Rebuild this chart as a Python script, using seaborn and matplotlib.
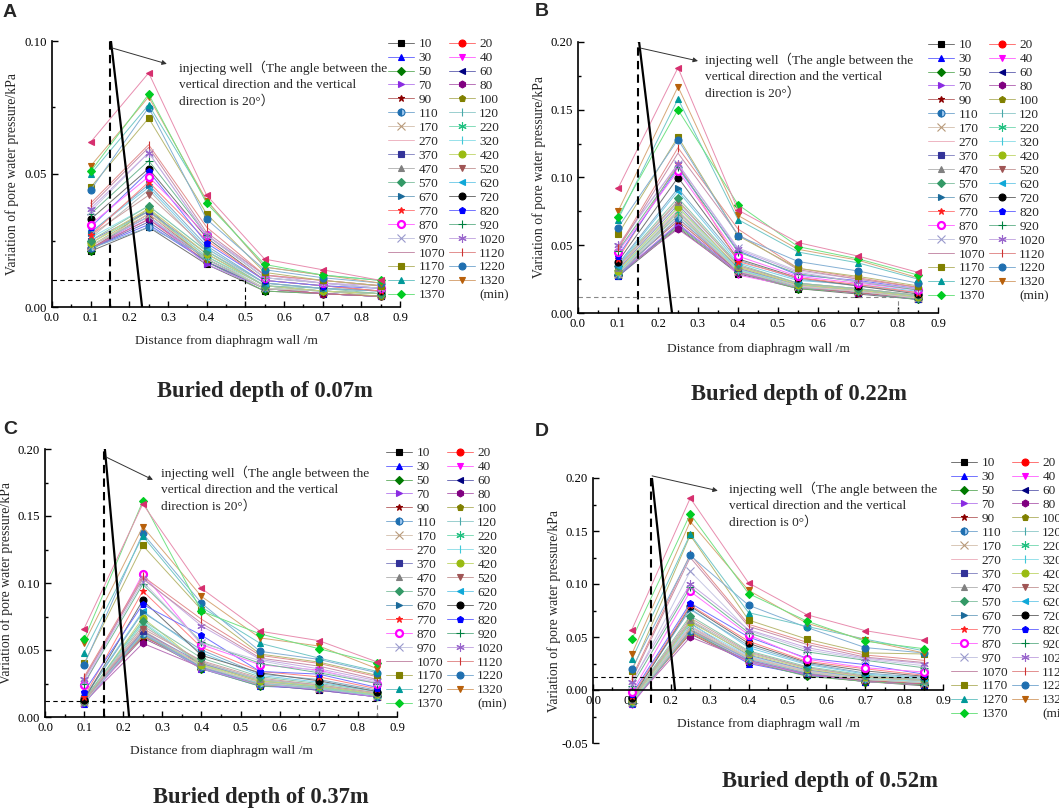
import matplotlib
matplotlib.use("Agg")
import matplotlib.pyplot as plt
import seaborn as sns
from matplotlib.lines import Line2D
from matplotlib.ticker import MultipleLocator
from matplotlib.colors import to_rgb

# distance of each monitoring point from the diaphragm wall (m)
distance = [0.1, 0.25, 0.4, 0.55, 0.7, 0.85]

# injection time of each curve (min); the last curve is not listed in the legend
times = [10, 20, 30, 40, 50, 60, 70, 80, 90, 100, 110, 120, 170, 220, 270, 320,
         370, 420, 470, 520, 570, 620, 670, 720, 770, 820, 870, 920, 970, 1020,
         1070, 1120, 1170, 1220, 1270, 1320, 1370, 1420]

# buried depth 0.07 m
values_a = [
    [0.021, 0.030, 0.016, 0.006, 0.005, 0.004],
    [0.022, 0.033, 0.017, 0.007, 0.005, 0.004],
    [0.022, 0.031, 0.017, 0.007, 0.005, 0.004],
    [0.023, 0.034, 0.018, 0.007, 0.005, 0.004],
    [0.021, 0.037, 0.017, 0.006, 0.005, 0.004],
    [0.022, 0.032, 0.017, 0.007, 0.005, 0.004],
    [0.022, 0.034, 0.016, 0.007, 0.005, 0.004],
    [0.022, 0.033, 0.018, 0.007, 0.005, 0.004],
    [0.022, 0.035, 0.018, 0.007, 0.005, 0.004],
    [0.023, 0.036, 0.018, 0.007, 0.006, 0.004],
    [0.022, 0.030, 0.019, 0.007, 0.006, 0.005],
    [0.023, 0.034, 0.018, 0.007, 0.006, 0.005],
    [0.023, 0.035, 0.019, 0.007, 0.006, 0.005],
    [0.024, 0.036, 0.019, 0.008, 0.006, 0.005],
    [0.024, 0.037, 0.020, 0.008, 0.006, 0.005],
    [0.026, 0.038, 0.021, 0.008, 0.006, 0.005],
    [0.025, 0.036, 0.020, 0.008, 0.006, 0.005],
    [0.024, 0.037, 0.020, 0.008, 0.006, 0.005],
    [0.026, 0.044, 0.021, 0.009, 0.007, 0.006],
    [0.027, 0.042, 0.022, 0.009, 0.007, 0.006],
    [0.025, 0.038, 0.021, 0.008, 0.007, 0.005],
    [0.028, 0.045, 0.022, 0.009, 0.007, 0.006],
    [0.028, 0.046, 0.023, 0.009, 0.007, 0.006],
    [0.033, 0.052, 0.026, 0.010, 0.008, 0.006],
    [0.027, 0.047, 0.025, 0.010, 0.008, 0.006],
    [0.030, 0.051, 0.024, 0.010, 0.008, 0.007],
    [0.031, 0.049, 0.027, 0.011, 0.009, 0.007],
    [0.035, 0.055, 0.027, 0.011, 0.009, 0.007],
    [0.036, 0.058, 0.027, 0.011, 0.009, 0.007],
    [0.037, 0.058, 0.027, 0.012, 0.009, 0.008],
    [0.038, 0.060, 0.028, 0.012, 0.010, 0.008],
    [0.039, 0.061, 0.030, 0.012, 0.010, 0.008],
    [0.045, 0.071, 0.035, 0.013, 0.010, 0.008],
    [0.044, 0.075, 0.033, 0.014, 0.011, 0.009],
    [0.050, 0.076, 0.040, 0.015, 0.012, 0.010],
    [0.053, 0.079, 0.040, 0.015, 0.012, 0.009],
    [0.051, 0.080, 0.039, 0.016, 0.012, 0.010],
    [0.062, 0.088, 0.042, 0.018, 0.014, 0.010],
]

# buried depth 0.22 m
values_b = [
    [0.027, 0.063, 0.029, 0.018, 0.014, 0.010],
    [0.028, 0.070, 0.031, 0.019, 0.015, 0.011],
    [0.027, 0.066, 0.030, 0.019, 0.015, 0.010],
    [0.029, 0.075, 0.028, 0.019, 0.015, 0.011],
    [0.028, 0.064, 0.030, 0.018, 0.015, 0.010],
    [0.028, 0.065, 0.031, 0.019, 0.015, 0.011],
    [0.028, 0.066, 0.030, 0.019, 0.015, 0.011],
    [0.029, 0.062, 0.030, 0.019, 0.015, 0.011],
    [0.030, 0.068, 0.031, 0.019, 0.015, 0.011],
    [0.032, 0.072, 0.034, 0.021, 0.017, 0.012],
    [0.028, 0.070, 0.032, 0.020, 0.016, 0.011],
    [0.029, 0.072, 0.031, 0.019, 0.016, 0.011],
    [0.029, 0.074, 0.031, 0.020, 0.016, 0.011],
    [0.030, 0.075, 0.032, 0.020, 0.016, 0.012],
    [0.031, 0.076, 0.033, 0.020, 0.016, 0.012],
    [0.030, 0.078, 0.032, 0.021, 0.017, 0.012],
    [0.032, 0.080, 0.033, 0.021, 0.017, 0.012],
    [0.031, 0.078, 0.034, 0.021, 0.017, 0.012],
    [0.033, 0.082, 0.035, 0.022, 0.018, 0.013],
    [0.034, 0.083, 0.035, 0.022, 0.018, 0.013],
    [0.035, 0.085, 0.036, 0.022, 0.018, 0.013],
    [0.035, 0.090, 0.037, 0.024, 0.021, 0.016],
    [0.036, 0.092, 0.039, 0.025, 0.020, 0.015],
    [0.038, 0.100, 0.040, 0.026, 0.020, 0.014],
    [0.040, 0.110, 0.038, 0.026, 0.021, 0.015],
    [0.042, 0.107, 0.046, 0.028, 0.024, 0.018],
    [0.045, 0.105, 0.042, 0.027, 0.022, 0.017],
    [0.046, 0.108, 0.045, 0.029, 0.023, 0.017],
    [0.049, 0.110, 0.048, 0.031, 0.025, 0.019],
    [0.050, 0.110, 0.047, 0.030, 0.023, 0.018],
    [0.047, 0.118, 0.058, 0.032, 0.025, 0.019],
    [0.048, 0.122, 0.062, 0.033, 0.026, 0.019],
    [0.058, 0.130, 0.057, 0.033, 0.027, 0.020],
    [0.063, 0.128, 0.057, 0.038, 0.031, 0.022],
    [0.069, 0.158, 0.069, 0.045, 0.037, 0.025],
    [0.075, 0.167, 0.072, 0.047, 0.039, 0.026],
    [0.071, 0.150, 0.080, 0.049, 0.040, 0.028],
    [0.092, 0.181, 0.076, 0.052, 0.042, 0.030],
]

# buried depth 0.37 m
values_c = [
    [0.012, 0.059, 0.038, 0.024, 0.020, 0.015],
    [0.014, 0.064, 0.038, 0.025, 0.021, 0.016],
    [0.010, 0.062, 0.036, 0.023, 0.021, 0.015],
    [0.011, 0.060, 0.037, 0.025, 0.020, 0.015],
    [0.012, 0.061, 0.036, 0.023, 0.022, 0.016],
    [0.011, 0.063, 0.037, 0.024, 0.020, 0.015],
    [0.010, 0.062, 0.036, 0.024, 0.021, 0.015],
    [0.011, 0.055, 0.037, 0.025, 0.021, 0.016],
    [0.013, 0.060, 0.040, 0.026, 0.022, 0.016],
    [0.012, 0.061, 0.039, 0.024, 0.023, 0.017],
    [0.011, 0.062, 0.037, 0.025, 0.022, 0.016],
    [0.011, 0.063, 0.038, 0.025, 0.021, 0.016],
    [0.011, 0.065, 0.038, 0.026, 0.022, 0.016],
    [0.012, 0.070, 0.039, 0.027, 0.022, 0.016],
    [0.013, 0.068, 0.041, 0.028, 0.023, 0.017],
    [0.013, 0.071, 0.040, 0.028, 0.023, 0.017],
    [0.012, 0.064, 0.040, 0.027, 0.023, 0.017],
    [0.012, 0.074, 0.039, 0.027, 0.023, 0.017],
    [0.012, 0.068, 0.041, 0.028, 0.024, 0.018],
    [0.012, 0.066, 0.042, 0.029, 0.024, 0.018],
    [0.013, 0.072, 0.044, 0.030, 0.025, 0.019],
    [0.015, 0.079, 0.048, 0.031, 0.026, 0.019],
    [0.014, 0.078, 0.050, 0.032, 0.028, 0.020],
    [0.013, 0.087, 0.046, 0.033, 0.027, 0.019],
    [0.015, 0.094, 0.052, 0.034, 0.030, 0.021],
    [0.019, 0.084, 0.061, 0.034, 0.032, 0.022],
    [0.024, 0.107, 0.054, 0.039, 0.035, 0.025],
    [0.025, 0.099, 0.056, 0.040, 0.033, 0.025],
    [0.027, 0.101, 0.055, 0.042, 0.034, 0.026],
    [0.028, 0.104, 0.068, 0.043, 0.036, 0.027],
    [0.029, 0.103, 0.070, 0.044, 0.038, 0.028],
    [0.030, 0.105, 0.073, 0.046, 0.040, 0.030],
    [0.040, 0.128, 0.080, 0.047, 0.041, 0.031],
    [0.039, 0.137, 0.085, 0.049, 0.043, 0.033],
    [0.048, 0.135, 0.082, 0.055, 0.044, 0.034],
    [0.055, 0.142, 0.090, 0.059, 0.053, 0.036],
    [0.058, 0.161, 0.079, 0.062, 0.051, 0.040],
    [0.066, 0.159, 0.096, 0.064, 0.057, 0.041],
]

# buried depth 0.52 m
values_d = [
    [-0.010, 0.053, 0.026, 0.014, 0.008, 0.004],
    [-0.012, 0.054, 0.026, 0.014, 0.008, 0.005],
    [-0.013, 0.056, 0.025, 0.014, 0.008, 0.005],
    [-0.014, 0.058, 0.026, 0.015, 0.008, 0.005],
    [-0.012, 0.055, 0.027, 0.013, 0.008, 0.005],
    [-0.012, 0.063, 0.028, 0.015, 0.009, 0.006],
    [-0.013, 0.060, 0.027, 0.015, 0.009, 0.006],
    [-0.012, 0.050, 0.028, 0.015, 0.009, 0.006],
    [-0.012, 0.057, 0.030, 0.016, 0.009, 0.006],
    [-0.011, 0.055, 0.031, 0.017, 0.010, 0.007],
    [-0.012, 0.056, 0.029, 0.016, 0.010, 0.007],
    [-0.011, 0.058, 0.030, 0.017, 0.010, 0.007],
    [-0.011, 0.058, 0.030, 0.017, 0.010, 0.007],
    [-0.011, 0.060, 0.031, 0.018, 0.011, 0.008],
    [-0.010, 0.060, 0.031, 0.018, 0.011, 0.008],
    [-0.010, 0.062, 0.032, 0.019, 0.011, 0.008],
    [-0.010, 0.065, 0.033, 0.019, 0.012, 0.009],
    [-0.010, 0.064, 0.034, 0.020, 0.012, 0.009],
    [-0.009, 0.066, 0.035, 0.021, 0.013, 0.009],
    [-0.009, 0.068, 0.036, 0.021, 0.013, 0.010],
    [-0.008, 0.070, 0.037, 0.022, 0.014, 0.010],
    [-0.007, 0.077, 0.040, 0.024, 0.015, 0.011],
    [-0.006, 0.076, 0.042, 0.025, 0.016, 0.012],
    [-0.008, 0.079, 0.044, 0.026, 0.018, 0.013],
    [-0.006, 0.080, 0.046, 0.027, 0.020, 0.014],
    [-0.004, 0.082, 0.050, 0.030, 0.024, 0.015],
    [-0.002, 0.093, 0.052, 0.029, 0.021, 0.017],
    [0.004, 0.097, 0.054, 0.036, 0.028, 0.021],
    [0.006, 0.112, 0.056, 0.038, 0.029, 0.023],
    [0.008, 0.100, 0.057, 0.040, 0.030, 0.025],
    [0.010, 0.125, 0.060, 0.043, 0.031, 0.026],
    [0.012, 0.128, 0.062, 0.045, 0.033, 0.028],
    [0.018, 0.146, 0.066, 0.048, 0.035, 0.034],
    [0.020, 0.127, 0.080, 0.059, 0.040, 0.035],
    [0.029, 0.147, 0.073, 0.060, 0.048, 0.037],
    [0.034, 0.159, 0.094, 0.063, 0.047, 0.035],
    [0.048, 0.166, 0.091, 0.065, 0.046, 0.039],
    [0.057, 0.181, 0.101, 0.071, 0.056, 0.047],
]

# Origin style symbol of each curve
asterisk = (6, 2, 0)
markers = ['s', 'o', '^', 'v', 'D', '<', '>', 'h', '*', 'p', 'o', '|', 'x', asterisk,
           None, '|', 's', 'o', '^', 'v', 'D', '<', '>', 'o', '*', 'p', 'o', '+', 'x',
           asterisk, None, '|', 's', 'o', '^', 'v', 'D', '<']
colors = ['#000000', '#ff0000', '#0000ff', '#ff00ff', '#007a00', '#000080', '#8a2be2',
          '#800080', '#8b0000', '#808000', '#1f6fb0', '#48a8a8', '#b89a7a', '#20c080',
          '#e07890', '#40c8d8', '#333399', '#99bb11', '#808080', '#a05555', '#339966',
          '#10a8d8', '#1a6a9a', '#000000', '#ff2020', '#0000ff', '#ff00ff', '#008040',
          '#9999cc', '#9966cc', '#993366', '#cc3333', '#808000', '#1f6fb0', '#009999',
          '#b8600b', '#00cc22', '#d62f6e']


def lighten(color, amount=0.45):
    r, g, b = to_rgb(color)
    return (r + (1 - r) * amount, g + (1 - g) * amount, b + (1 - b) * amount)


def series_style(i):
    c = colors[i]
    style = dict(color=lighten(c), linewidth=0.7, marker=markers[i], markersize=5,
                 markerfacecolor=c, markeredgecolor=c, markeredgewidth=0.8)
    if markers[i] in ('|', '+', 'x', asterisk):
        style['markersize'] = 6
    if markers[i] == 'D':
        style['markersize'] = 4.5
    if times[i] == 110:
        style['fillstyle'] = 'left'
        style['markerfacecoloralt'] = '#9cc6ee'
    if times[i] == 870:
        style['markerfacecolor'] = 'white'
        style['markeredgewidth'] = 1.6
    return style


sns.set_style("ticks")
plt.rcParams['font.family'] = ['Liberation Serif', 'Noto Sans CJK SC']

W, H = 1059, 810
fig = plt.figure(figsize=(W / 100, H / 100), dpi=100)


def px_axes(left, top, right, bottom):
    return fig.add_axes([left / W, 1 - bottom / H, (right - left) / W, (bottom - top) / H])


def draw_panel(ax, values, ylim, ystep, well, guide, arrow, note, note_xy, legend_xy,
               label_xy, zero_spine=False):
    for i in range(len(times)):
        sns.lineplot(x=distance, y=values[i], ax=ax, **series_style(i))
    if ax.get_legend() is not None:
        ax.get_legend().remove()

    # injection well and guide lines
    (x0, y0), (x1, y1), ybot = well
    ax.plot([x0, x0], [ybot, y0], color='black', lw=1.5, ls=(0, (4, 2.5)))
    ax.plot([x0, x1], [y0, y1], color='black', lw=1.6)
    gx, gy, hcol, vcol = guide
    ax.plot([0, gx], [gy, gy], color=hcol, lw=0.8, ls=(0, (4, 3)))
    ax.plot([gx, gx], [0, gy], color=vcol, lw=0.8, ls=(0, (4, 3)))
    ax.annotate('', xy=arrow[1], xytext=arrow[0],
                arrowprops=dict(arrowstyle='-|>', color='#333333', lw=0.7,
                                mutation_scale=7, shrinkA=0, shrinkB=0))
    ax.text(note_xy[0], note_xy[1], note, fontsize=9.6, ha='left', va='center',
            linespacing=1.45)

    ax.set_xlim(0, 0.9)
    ax.set_ylim(*ylim)
    ax.xaxis.set_major_locator(MultipleLocator(0.1))
    ax.xaxis.set_minor_locator(MultipleLocator(0.05))
    ax.yaxis.set_major_locator(MultipleLocator(ystep))
    ax.yaxis.set_minor_locator(MultipleLocator(ystep / 2))
    ax.xaxis.set_major_formatter(lambda v, p: f"{v:.1f}")
    ax.yaxis.set_major_formatter(lambda v, p: f"{v:.2f}")
    ax.tick_params(which='both', direction='in', labelsize=9.2, width=1, colors='black')
    ax.tick_params(which='major', length=4.5)
    ax.tick_params(which='minor', length=2.5)
    sns.despine(ax=ax)
    for s in ('left', 'bottom'):
        ax.spines[s].set_linewidth(1.2)
        ax.spines[s].set_color('black')
    if zero_spine:
        ax.spines['bottom'].set_position(('data', 0))
    ax.set_facecolor('white')
    ax.set_ylabel('Variation of pore water pressure/kPa', fontsize=9.9)
    ax.set_xlabel('Distance from diaphragm wall /m', fontsize=9.7)
    ax.yaxis.set_label_coords(label_xy[0], 0.5)
    ax.xaxis.set_label_coords(0.5, label_xy[1])

    # legend: two columns read row by row, as in Origin
    handles = [Line2D([], [], **series_style(i)) for i in range(len(times) - 1)]
    labels = [str(t) for t in times[:-1]]
    order_1 = list(range(0, len(handles), 2))
    order_2 = list(range(1, len(handles), 2))
    h = [handles[i] for i in order_1] + [handles[i] for i in order_2]
    h.append(Line2D([], [], linestyle='none'))
    lab = [labels[i] for i in order_1] + [labels[i] for i in order_2] + ['(min)']
    fig.legend(h, lab, loc='upper left', bbox_to_anchor=(legend_xy[0] / W, 1 - legend_xy[1] / H),
               ncol=2, frameon=False, fontsize=9.5, handlelength=2.0, handletextpad=0.3,
               columnspacing=0.3, labelspacing=0.13, borderpad=0, borderaxespad=0)


note20 = "injecting well（The angle between the\nvertical direction and the vertical\ndirection is 20°）"
note0 = "injecting well（The angle between the\nvertical direction and the vertical\ndirection is 0°）"

ax_a = px_axes(52, 41, 400, 307)
draw_panel(ax_a, values_a, (0, 0.10), 0.05,
           ((0.15, 0.103), (0.233, 0.0), 0.0), (0.5, 0.010, 'black', 'black'),
           ((0.155, 0.0974), (0.297, 0.0914)), note20, (0.328, 0.0838),
           (388, 38), (-0.095, -0.105))

ax_b = px_axes(578, 42, 938, 313)
draw_panel(ax_b, values_b, (0, 0.20), 0.05,
           ((0.15, 0.2066), (0.235, 0.0), 0.0), (0.8, 0.012, '#888888', '#888888'),
           ((0.155, 0.1956), (0.30, 0.186)), note20, (0.3175, 0.175),
           (928, 39), (-0.089, -0.11))

ax_c = px_axes(45, 449, 397, 717)
draw_panel(ax_c, values_c, (0, 0.20), 0.05,
           ((0.151, 0.2067), (0.215, 0.0), 0.0), (0.85, 0.012, 'black', '#888888'),
           ((0.156, 0.194), (0.276, 0.177)), note20, (0.297, 0.170),
           (386, 447), (-0.091, -0.104))

ax_d = px_axes(593, 478, 943, 743)
draw_panel(ax_d, values_d, (-0.05, 0.20), 0.05,
           ((0.149, 0.2085), (0.211, 0.0), -0.012), (0.85, 0.0123, 'black', 'black'),
           ((0.152, 0.202), (0.321, 0.188)), note0, (0.35, 0.1745),
           (951, 457), (-0.091, 0.094), zero_spine=True)

# panel letters and captions
for letter, x, y in [('A', 3, 4), ('B', 535, 3), ('C', 3, 421), ('D', 535, 423)]:
    fig.text(x / W, 1 - y / H, letter, fontsize=14, fontweight='bold', va='top', ha='left',
             family='Liberation Sans')
for caption, x, y in [('Buried depth of 0.07m', 265, 391), ('Buried depth of 0.22m', 799, 395),
                      ('Buried depth of 0.37m', 261, 797), ('Buried depth of 0.52m', 830, 782)]:
    fig.text(x / W, 1 - y / H, caption, fontsize=16.3, fontweight='bold', ha='center', va='center')

fig.savefig('out.png', dpi=100, facecolor='white')
